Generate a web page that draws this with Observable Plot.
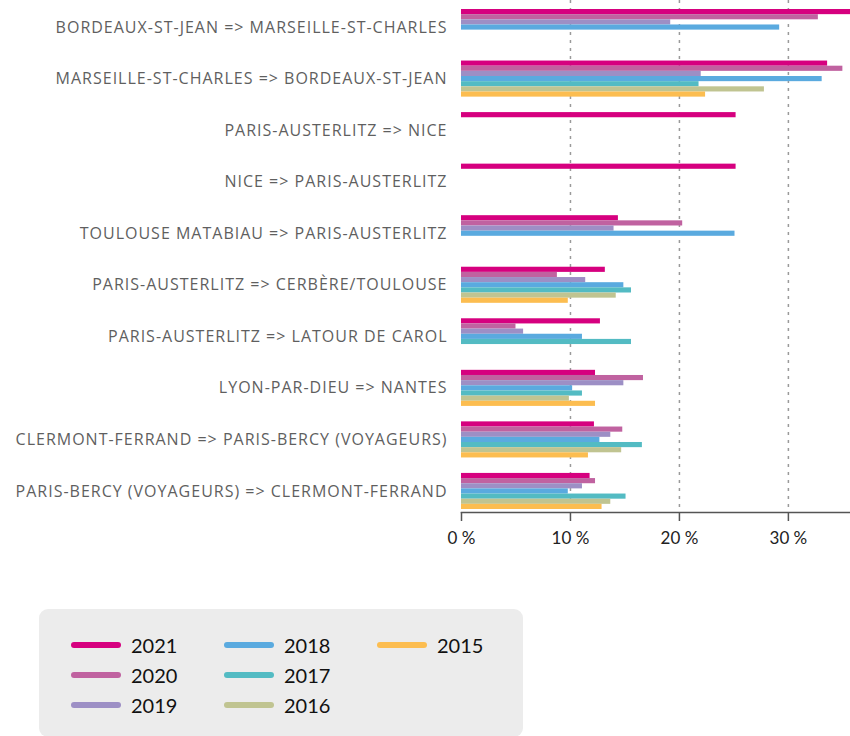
<!DOCTYPE html>
<html>
<head>
<meta charset="utf-8">
<script src="https://cdn.jsdelivr.net/npm/d3@7"></script>
<script src="https://cdn.jsdelivr.net/npm/@observablehq/plot@0.6"></script>
<style>
  html, body { margin: 0; padding: 0; background: #fff; }
  #chart svg { display: block; }
  #chart g[aria-label="y-axis tick label"] text { letter-spacing: 1px; }
  #legend {
    position: absolute; left: 39px; top: 609px; width: 484px; height: 128px;
    background: #ececec; border-radius: 9px; box-sizing: border-box;
    font-family: Lato, "Open Sans", sans-serif; font-size: 20px; color: #111;
  }
  .item { position: absolute; display: flex; align-items: center; height: 30px; }
  .sw { width: 50px; height: 6px; border-radius: 3px; margin-right: 10px; }
</style>
</head>
<body>
<div id="chart"></div>
<div id="legend"></div>
<script>
const routes = [
  "BORDEAUX-ST-JEAN => MARSEILLE-ST-CHARLES",
  "MARSEILLE-ST-CHARLES => BORDEAUX-ST-JEAN",
  "PARIS-AUSTERLITZ => NICE",
  "NICE => PARIS-AUSTERLITZ",
  "TOULOUSE MATABIAU => PARIS-AUSTERLITZ",
  "PARIS-AUSTERLITZ => CERBÈRE/TOULOUSE",
  "PARIS-AUSTERLITZ => LATOUR DE CAROL",
  "LYON-PAR-DIEU => NANTES",
  "CLERMONT-FERRAND => PARIS-BERCY (VOYAGEURS)",
  "PARIS-BERCY (VOYAGEURS) => CLERMONT-FERRAND"
];
const years = ["2021", "2020", "2019", "2018", "2017", "2016", "2015"];
const colors = ["#d6007f", "#c062a0", "#9d8fc5", "#5aaadf", "#53bbc3", "#c0c491", "#fcbd50"];

const values2021 = [35.7, 33.6, 25.2, 25.2, 14.4, 13.2, 12.75, 12.3, 12.2, 11.8];
const values2020 = [32.75, 35.0, null, null, 20.3, 8.8, 5.0, 16.7, 14.8, 12.3];
const values2019 = [19.2, 22.0, null, null, 14.0, 11.4, 5.7, 14.9, 13.7, 11.1];
const values2018 = [29.2, 33.1, null, null, 25.1, 14.9, 11.1, 10.2, 12.7, 9.8];
const values2017 = [null, 21.8, null, null, null, 15.6, 15.6, 11.1, 16.6, 15.1];
const values2016 = [null, 27.8, null, null, null, 14.2, null, 9.9, 14.7, 13.7];
const values2015 = [null, 22.4, null, null, null, 9.8, null, 12.3, 11.65, 12.9];
const xTicks = [0, 10, 20, 30];

const series = [values2021, values2020, values2019, values2018, values2017, values2016, values2015];

const data = [];
routes.forEach((r, i) => {
  years.forEach((y, j) => {
    const v = series[j][i];
    if (v != null) data.push({route: r, year: y, key: r + "|" + y, value: v});
  });
});

// band domain: 7 slots per route + 3 spacer slots between routes
const domain = [];
routes.forEach((r, i) => {
  years.forEach(y => domain.push(r + "|" + y));
  if (i < routes.length - 1) for (let k = 0; k < 3; k++) domain.push("gap" + i + "_" + k);
});

const chart = Plot.plot({
  width: 850,
  height: 560,
  marginLeft: 461,
  marginRight: 0,
  marginTop: 0,
  marginBottom: 48,
  style: {fontFamily: "'Open Sans', Lato, sans-serif", background: "#fff"},
  x: {domain: [0, 35.7]},
  y: {type: "band", domain, padding: 0, round: false, insetTop: 9, insetBottom: 3},
  color: {domain: years, range: colors},
  marks: [
    Plot.gridX({ticks: [10, 20, 30], stroke: "#9a9a9a", strokeOpacity: 1, strokeWidth: 1.5, strokeDasharray: "3,5"}),
    Plot.barX(data, {x: "value", y: "key", fill: "year", inset: 0}),
    Plot.frame({anchor: "bottom", stroke: "#555", strokeWidth: 1.5}),
    Plot.axisX({ticks: xTicks, tickFormat: d => d + " %", tickSize: 9, tickPadding: 10, fontSize: 17, fill: "#222", stroke: "#555", strokeWidth: 1.5, label: null, fontFamily: "Lato, sans-serif"}),
    Plot.axisY({ticks: routes.map(r => r + "|2018"), tickFormat: k => k.split("|")[0], tickSize: 0, tickPadding: 14, fontSize: 16, fill: "#5f5f5f", label: null})
  ]
});
document.getElementById("chart").appendChild(chart);

const legend = document.getElementById("legend");
const colX = [32, 185, 338];
years.forEach((y, j) => {
  const col = Math.floor(j / 3), row = j % 3;
  const it = document.createElement("div");
  it.className = "item";
  it.style.left = colX[col] + "px";
  it.style.top = (21 + row * 30) + "px";
  it.innerHTML = `<div class="sw" style="background:${colors[j]}"></div><span>${y}</span>`;
  legend.appendChild(it);
});
</script>
</body>
</html>
